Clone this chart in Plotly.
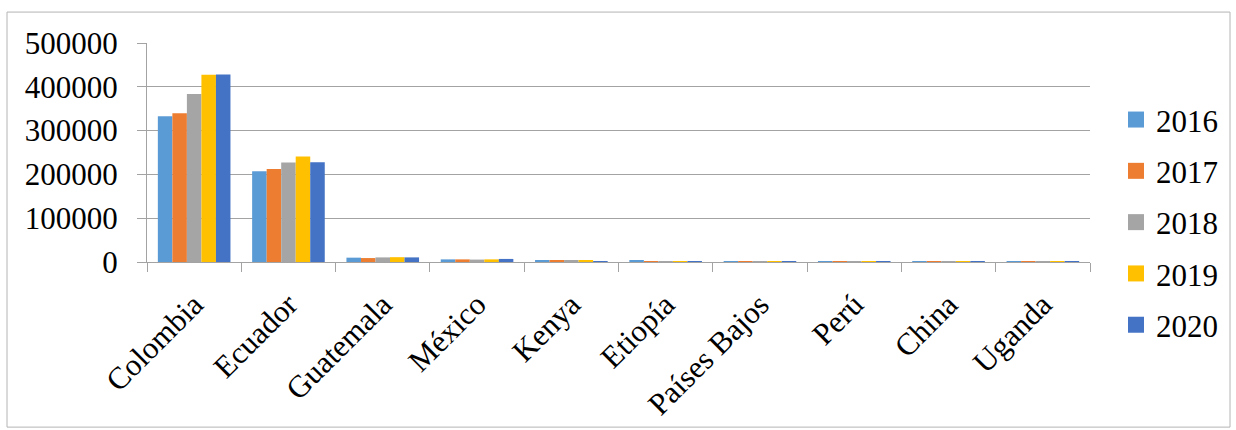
import plotly.graph_objects as go

# Producing countries (category axis)
countries = ["Colombia", "Ecuador", "Guatemala", "México", "Kenya",
             "Etiopía", "Países Bajos", "Perú", "China", "Uganda"]

years = ["2016", "2017", "2018", "2019", "2020"]

v2016 = [332600, 207300, 9900, 6000, 4000, 2500, 600, 300, 200, 200]
v2017 = [339400, 212600, 9000, 6000, 4000, 1000, 600, 300, 200, 200]
v2018 = [383400, 227100, 10500, 5500, 2500, 800, 600, 300, 200, 200]
v2019 = [427600, 240800, 11000, 6000, 2500, 1000, 700, 300, 200, 200]
v2020 = [428200, 227800, 10500, 7000, 1000, 1000, 500, 300, 200, 200]

series = [v2016, v2017, v2018, v2019, v2020]
colors = ["#5B9BD5", "#ED7D31", "#A5A5A5", "#FFC000", "#4472C4"]

FONT = "Liberation Serif, Times New Roman, serif"
FS = 31
GRID = "#a3a3a3"

# plot-area geometry in pixels
W, H = 1236, 430
L, R, T, B = 147, 146, 43, 167.5
pw, ph = W - L - R, H - T - B

fig = go.Figure()

for yr, vals, col in zip(years, series, colors):
    fig.add_trace(go.Bar(
        x=countries, y=vals, name=yr,
        marker=dict(color=col, line=dict(width=0)),
        showlegend=False,
    ))

# legend entries with larger square swatches
for yr, col in zip(years, colors):
    fig.add_trace(go.Scatter(
        x=[None], y=[None], name=yr, mode="markers",
        marker=dict(symbol="square", size=16, color=col),
        legendgroup=yr, showlegend=True,
    ))

# outer chart border
fig.add_shape(
    type="rect", xref="paper", yref="paper",
    x0=(7 - L) / pw, x1=(1230 - L) / pw,
    y0=(T + ph - 428) / ph, y1=(T + ph - 12) / ph,
    line=dict(color="#b4b4b4", width=1), fillcolor="rgba(0,0,0,0)",
    layer="below",
)

fig.update_layout(
    width=W, height=H,
    margin=dict(l=L, r=R, t=T, b=B, autoexpand=False),
    paper_bgcolor="white", plot_bgcolor="white",
    barmode="group", bargap=0.23, bargroupgap=0,
    font=dict(family=FONT, size=FS, color="black"),
    legend=dict(
        x=(1116 - L) / pw, xanchor="left",
        y=(T + ph - 93) / ph, yanchor="top",
        traceorder="grouped", tracegroupgap=8,
        font=dict(family=FONT, size=FS, color="black"),
        bgcolor="rgba(0,0,0,0)", itemwidth=30, maxheight=430,
    ),
    xaxis=dict(
        type="category", tickangle=-45, tickson="boundaries",
        ticks="outside", ticklen=9, tickcolor=GRID, tickwidth=1,
        showline=True, linecolor=GRID, linewidth=1,
        showgrid=False, ticklabelstandoff=11,
        tickfont=dict(family=FONT, size=FS, color="black"),
    ),
    yaxis=dict(
        range=[0, 500000], dtick=100000, tickformat="d",
        ticks="outside", ticklen=9, tickcolor=GRID, tickwidth=1,
        showline=True, linecolor=GRID, linewidth=1,
        showgrid=True, gridcolor=GRID, gridwidth=1,
        zeroline=False, ticklabelstandoff=13,
        tickfont=dict(family=FONT, size=FS, color="black"),
    ),
)

fig.write_html("out.html")
